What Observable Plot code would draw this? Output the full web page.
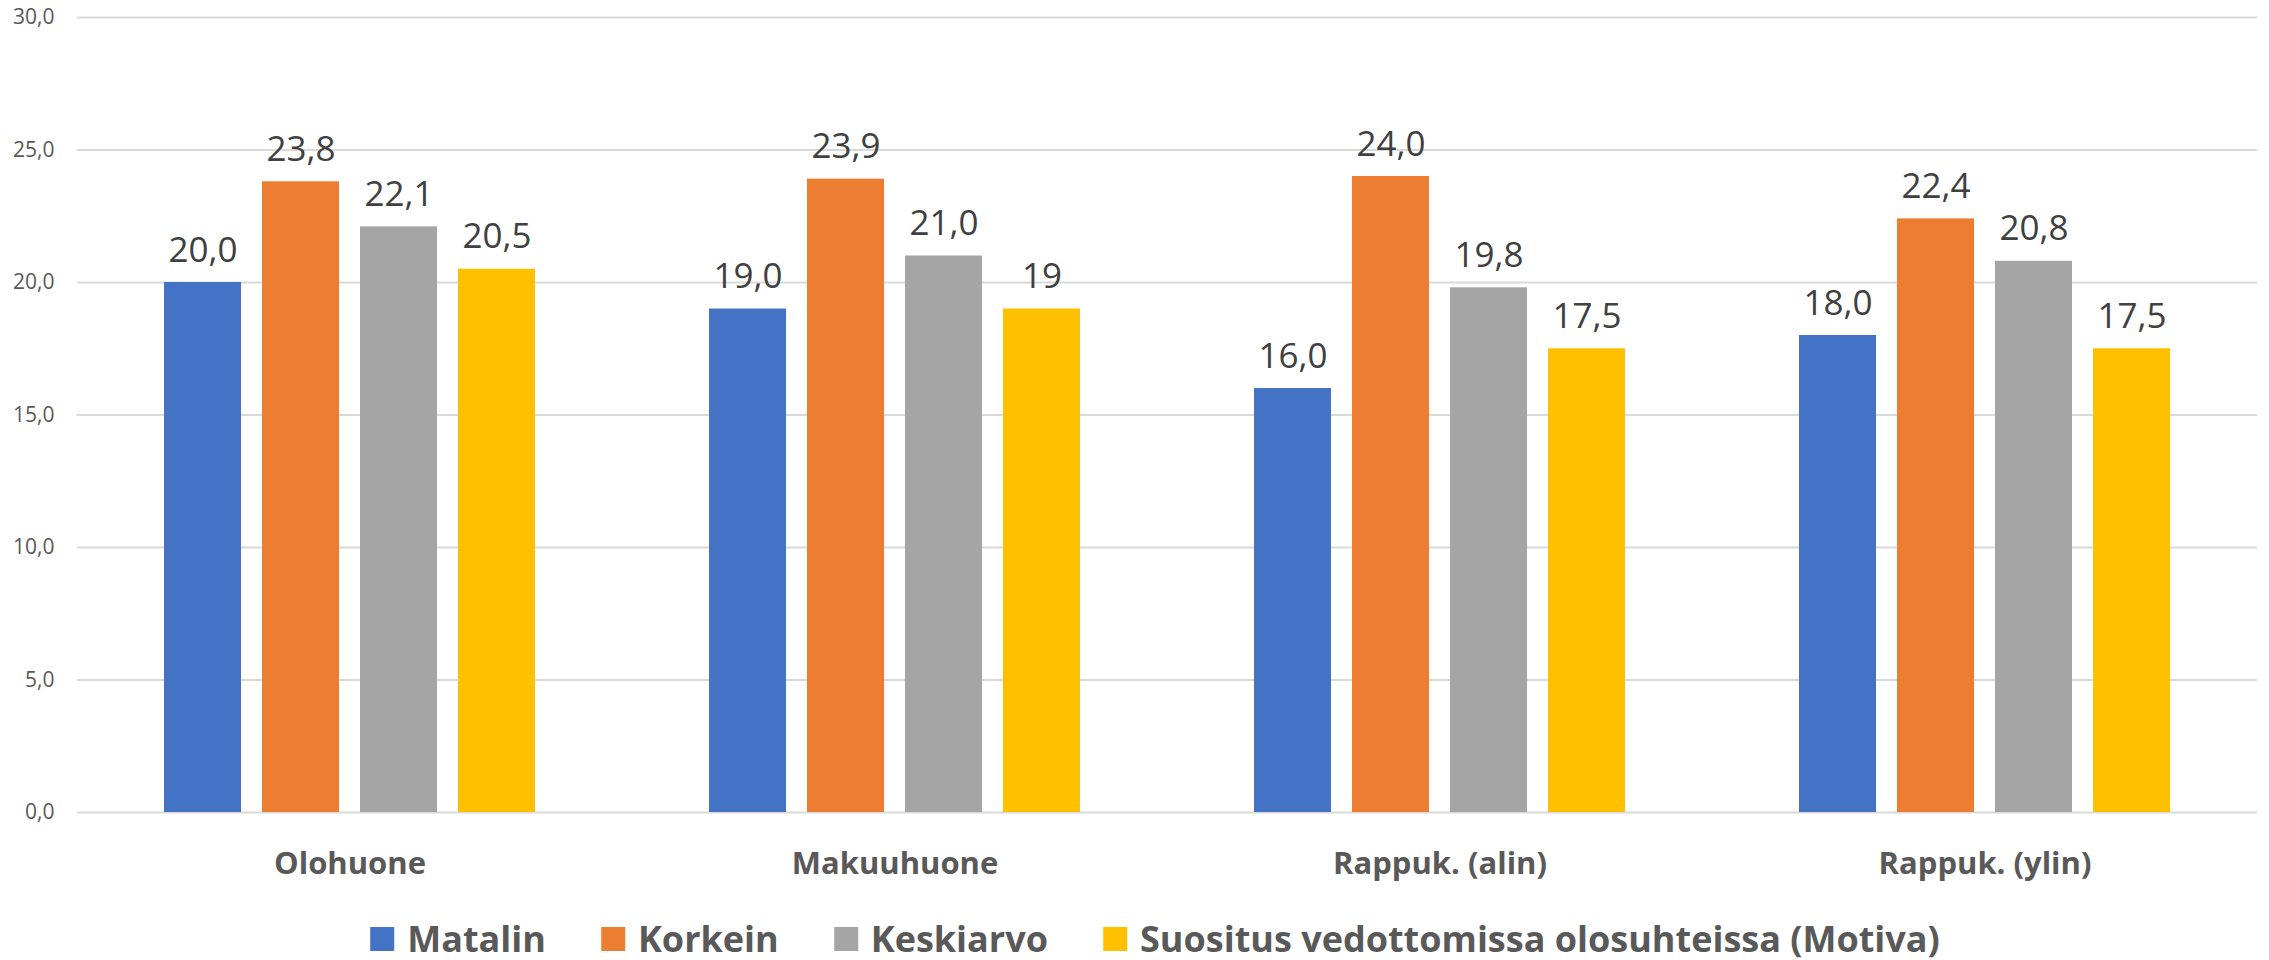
<!DOCTYPE html>
<html>
<head>
<meta charset="utf-8">
<script src="https://cdn.jsdelivr.net/npm/d3@7"></script>
<script src="https://cdn.jsdelivr.net/npm/@observablehq/plot@0.6"></script>
<style>
  html, body { margin: 0; padding: 0; background: #fff; }
  #wrap { position: relative; width: 2269px; height: 960px; font-family: 'Open Sans', sans-serif; }
  #legend { position: absolute; top: 919px; left: 1155px; transform: translateX(-50%); display: flex; align-items: center; white-space: nowrap; }
  .item { display: flex; align-items: center; margin-right: 55px; font-size: 36px; font-weight: bold; color: #595959; line-height: 40px; }
  .item:last-child { margin-right: 0; }
  .sw { width: 24px; height: 24px; margin-right: 13px; }
</style>
</head>
<body>
<div id="wrap"><div id="chart"></div><div id="legend"></div></div>
<script>
const categories = ["Olohuone", "Makuuhuone", "Rappuk. (alin)", "Rappuk. (ylin)"];
const series = ["Matalin", "Korkein", "Keskiarvo", "Suositus vedottomissa olosuhteissa (Motiva)"];
const colors = ["#4472C4", "#ED7D31", "#A5A5A5", "#FFC000"];
const matalin = [20.0, 19.0, 16.0, 18.0];
const korkein = [23.8, 23.9, 24.0, 22.4];
const keskiarvo = [22.1, 21.0, 19.8, 20.8];
const suositus = [20.5, 19, 17.5, 17.5];
const suositusLabels = ["20,5", "19", "17,5", "17,5"];
const yTicks = [0, 5, 10, 15, 20, 25, 30];

const fmt = v => v.toFixed(1).replace(".", ",");
const seriesValues = [matalin, korkein, keskiarvo, suositus];
const rows = [];
categories.forEach((c, i) => {
  series.forEach((s, j) => {
    const v = seriesValues[j][i];
    rows.push({category: c, series: s, value: v, label: j === 3 ? suositusLabels[i] : fmt(v)});
  });
});

const chart = Plot.plot({
  width: 2269,
  height: 900,
  marginTop: 17,
  marginBottom: 88,
  marginLeft: 77,
  marginRight: 12,
  style: {fontFamily: "'Open Sans', sans-serif", background: "#fff"},
  fx: {domain: categories, padding: 0, label: null},
  x: {domain: series, paddingInner: 0.2121, paddingOuter: 0.859, axis: null},
  y: {domain: [0, 30], label: null},
  color: {domain: series, range: colors},
  marks: [
    Plot.ruleY(yTicks, {stroke: "#d9d9d9", strokeWidth: 2}),
    Plot.barY(rows, {fx: "category", x: "series", y: "value", fill: "series"}),
    Plot.text(rows, {fx: "category", x: "series", y: "value", text: "label", lineAnchor: "bottom", dy: -21, fontSize: 35, fill: "#404040"}),
    Plot.axisY({ticks: yTicks, tickFormat: fmt, tickSize: 0, tickPadding: 23, fontSize: 21, color: "#595959", label: null}),
    Plot.axisFx({anchor: "bottom", tickSize: 0, tickPadding: 39, fontSize: 31, fontWeight: "bold", color: "#595959", label: null})
  ]
});
document.getElementById("chart").appendChild(chart);

const legend = document.getElementById("legend");
series.forEach((s, j) => {
  const item = document.createElement("div");
  item.className = "item";
  const sw = document.createElement("div");
  sw.className = "sw";
  sw.style.background = colors[j];
  const t = document.createElement("span");
  t.textContent = s;
  item.appendChild(sw);
  item.appendChild(t);
  legend.appendChild(item);
});
</script>
</body>
</html>
